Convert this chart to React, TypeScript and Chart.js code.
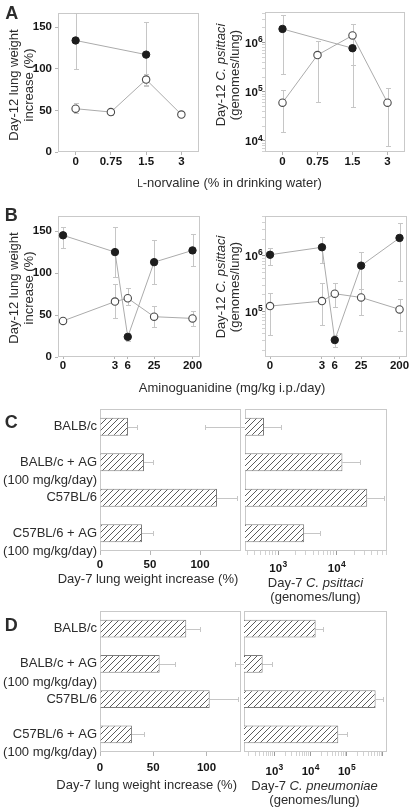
import React, { useEffect, useRef } from "react";
import { Chart, registerables } from "chart.js";
Chart.register(...registerables);

const FONT = "'Liberation Sans', Arial, Helvetica, sans-serif";
const TICK_COLOR = "#151515";
const TEXT_COLOR = "#2c2c2c";
const FRAME_COLOR = "#c9c9c9";
const WHISKER_COLOR = "#c6c6c6";
const LINE_COLOR = "#ababab";
const TICK_SIZE = 11.5;
const EXP_SIZE = 8.5;

// ---------- Panel A: L-norvaline ----------
const norvalineDoses = ["0", "0.75", "1.5", "3"];
const aWeightFilled = [134, null, 117, null];
const aWeightFilledLow = [100, null, 79, null];
const aWeightFilledHigh = [167, null, 156, null];
const aWeightOpen = [52, 48, 87, 45];
const aWeightOpenLow = [47, 45, 80, 42];
const aWeightOpenHigh = [59, 51, 94, 48];
const aPsittaciFilled = [1.9e6, null, 7.7e5, null];
const aPsittaciFilledLow = [2.3e5, null, 5.0e4, null];
const aPsittaciFilledHigh = [3.7e6, null, 2.4e6, null];
const aPsittaciOpen = [6.0e4, 5.6e5, 1.4e6, 6.0e4];
const aPsittaciOpenLow = [1.5e4, 6.2e4, 3.5e5, 8.0e3];
const aPsittaciOpenHigh = [1.07e5, 1.1e6, 2.4e6, 1.2e5];
const aPsittaciExps = [4, 5, 6];

// ---------- Panel B: aminoguanidine ----------
const agDoses = [0, 3, 6, 25, 200];
const agDoseLabels = ["0", "3", "6", "25", "200"];
const bWeightFilled = [145, 125, 24, 113, 127];
const bWeightFilledLow = [130, 95, 19, 87, 108];
const bWeightFilledHigh = [155, 155, 29, 139, 146];
const bWeightOpen = [43, 66, 70, 48, 46];
const bWeightOpenLow = [40, 46, 62, 36, 37];
const bWeightOpenHigh = [46, 87, 82, 61, 55];
const bPsittaciFilled = [1.05e6, 1.43e6, 3.1e4, 6.7e5, 2.1e6];
const bPsittaciFilledLow = [6.9e5, 7.4e5, 2.3e4, 2.0e5, 3.5e5];
const bPsittaciFilledHigh = [1.4e6, 2.2e6, 3.8e4, 1.2e6, 3.9e6];
const bPsittaciOpen = [1.26e5, 1.55e5, 2.1e5, 1.8e5, 1.1e5];
const bPsittaciOpenLow = [3.8e4, 5.8e4, 1.2e5, 8.7e4, 4.5e4];
const bPsittaciOpenHigh = [2.2e5, 3.3e5, 3.3e5, 2.6e5, 1.7e5];
const bPsittaciExps = [5, 6];
const ZERO_DOSE_POS = 0.18; // where the 0 dose sits on the log dose axis

// ---------- Panels C & D: strains ----------
const strainNames = ["BALB/c", "BALB/c + AG", "C57BL/6", "C57BL/6 + AG"];
const strainDoseNotes = ["", "(100 mg/kg/day)", "", "(100 mg/kg/day)"];
const cWeight = [28, 44, 117, 42];
const cWeightHigh = [37, 53, 137, 53];
const cPsittaci = [575, 12600, 33400, 2790];
const cPsittaciLow = [56, null, null, null];
const cPsittaciHigh = [1110, 25000, 64600, 5170];
const cPsittaciExps = [3, 4];
const dWeight = [81, 56, 103, 30];
const dWeightHigh = [94, 70, 130, 41];
const dPneumoniae = [13900, 478, 6.3e5, 58600];
const dPneumoniaeLow = [null, 82, null, null];
const dPneumoniaeHigh = [22600, 846, 1.03e6, 1.0e5];
const dPneumoniaeExps = [3, 4, 5];

const strainLabels = strainNames.map((n, i) =>
  strainDoseNotes[i] ? ["", n, strainDoseNotes[i]] : n
);

function isPow10(v: number) {
  const e = Math.round(Math.log10(v));
  return Math.abs(v - Math.pow(10, e)) < 1e-6 * v;
}
function logTickValues(min: number, max: number) {
  const out: any[] = [];
  for (let e = Math.floor(Math.log10(min)); e <= Math.ceil(Math.log10(max)); e++) {
    for (let m = 1; m < 10; m++) {
      const v = m * Math.pow(10, e);
      if (v >= min && v <= max) out.push({ value: v });
    }
  }
  return out;
}

function makeHatch() {
  const c = document.createElement("canvas");
  c.width = 6;
  c.height = 6;
  const g = c.getContext("2d")!;
  g.fillStyle = "#ffffff";
  g.fillRect(0, 0, 6, 6);
  g.strokeStyle = "#4a4a4a";
  g.lineWidth = 0.9;
  g.beginPath();
  g.moveTo(0, 6); g.lineTo(6, 0);
  g.moveTo(-1, 1); g.lineTo(1, -1);
  g.moveTo(5, 7); g.lineTo(7, 5);
  g.stroke();
  return g.createPattern(c, "repeat");
}

// plugins
const framePlugin = {
  id: "frame",
  beforeDatasetsDraw(chart: any) {
    const { ctx, chartArea: a } = chart;
    ctx.save();
    ctx.strokeStyle = FRAME_COLOR;
    ctx.lineWidth = 1;
    ctx.strokeRect(Math.round(a.left) + 0.5, Math.round(a.top) + 0.5,
      Math.round(a.right - a.left) - 1, Math.round(a.bottom - a.top) - 1);
    ctx.restore();
  },
};
const errorPlugin = {
  id: "errbars",
  beforeDatasetsDraw(chart: any) {
    const ctx = chart.ctx;
    const horizontal = chart.options.indexAxis === "y";
    const vScale = horizontal ? chart.scales.x : chart.scales.y;
    ctx.save();
    ctx.strokeStyle = WHISKER_COLOR;
    ctx.lineWidth = 1;
    chart.data.datasets.forEach((ds: any, di: number) => {
      const meta = chart.getDatasetMeta(di);
      ds.data.forEach((d: any, i: number) => {
        if (d == null) return;
        const v = typeof d === "object" ? (horizontal ? d.x : d.y) : d;
        if (v == null) return;
        const el = meta.data[i];
        if (!el) return;
        const pos = Math.round(horizontal ? el.y : el.x) + 0.5;
        const vp = vScale.getPixelForValue(v);
        [ds.errLow ? ds.errLow[i] : null, ds.errHigh ? ds.errHigh[i] : null].forEach((e: any) => {
          if (e == null) return;
          const ep = Math.round(vScale.getPixelForValue(e)) + 0.5;
          ctx.beginPath();
          if (horizontal) {
            ctx.moveTo(vp, pos); ctx.lineTo(ep, pos);
            ctx.moveTo(ep, pos - 2.5); ctx.lineTo(ep, pos + 2.5);
          } else {
            ctx.moveTo(pos, vp); ctx.lineTo(pos, ep);
            ctx.moveTo(pos - 2.5, ep); ctx.lineTo(pos + 2.5, ep);
          }
          ctx.stroke();
        });
      });
    });
    ctx.restore();
  },
};
// power-of-ten tick labels with a raised exponent
const powLabelPlugin = {
  id: "powLabels",
  afterDraw(chart: any, _args: any, opts: any) {
    if (!opts || !opts.exps) return;
    const scale = chart.scales[opts.axis];
    const a = chart.chartArea;
    const ctx = chart.ctx;
    ctx.save();
    ctx.fillStyle = TICK_COLOR;
    ctx.textBaseline = "alphabetic";
    ctx.textAlign = "left";
    opts.exps.forEach((e: number) => {
      const v = Math.pow(10, e);
      if (v < scale.min || v > scale.max) return;
      const p = scale.getPixelForValue(v);
      ctx.font = `bold ${TICK_SIZE}px ${FONT}`;
      const w1 = ctx.measureText("10").width;
      ctx.font = `bold ${EXP_SIZE}px ${FONT}`;
      const w2 = ctx.measureText(String(e)).width;
      let x0: number, base: number;
      if (opts.axis === "y") {
        x0 = a.left - opts.gap - w1 - w2;
        base = p + TICK_SIZE * 0.36;
      } else {
        x0 = p - (w1 + w2) / 2;
        base = a.bottom + opts.offset;
      }
      ctx.font = `bold ${TICK_SIZE}px ${FONT}`;
      ctx.fillText("10", x0, base);
      ctx.font = `bold ${EXP_SIZE}px ${FONT}`;
      ctx.fillText(String(e), x0 + w1 + 0.3, base - 4.6);
    });
    ctx.restore();
  },
};

type Box = { L: number; T: number; R: number; B: number; yw: number; xh: number; pr: number; pt: number; yHidden?: boolean };

function canvasRect(b: Box) {
  const left = b.L - b.yw;
  const top = b.T - b.pt;
  return { left, top, width: b.R + b.pr - left, height: b.B + b.xh - top };
}

function baseOptions(b: Box, scales: any, extra: any = {}, powLabels: any = false) {
  return {
    responsive: false,
    maintainAspectRatio: false,
    animation: false,
    devicePixelRatio: 1,
    events: [],
    layout: { padding: { left: b.yHidden ? b.yw : 0, right: b.pr, top: b.pt, bottom: 0 } },
    plugins: { legend: { display: false }, tooltip: { enabled: false }, title: { display: false }, powLabels },
    scales,
    ...extra,
  };
}

const boldTick = { family: FONT, size: TICK_SIZE, weight: "bold" as const };
const tickGrid = (len: number) => ({ drawOnChartArea: false, drawTicks: true, tickLength: len, color: "#b5b5b5" });
const logGrid = (len: number) => ({
  drawOnChartArea: false, drawTicks: true, tickLength: len,
  color: (c: any) => (c.tick && isPow10(c.tick.value) ? "#9a9a9a" : "#d2d2d2"),
});

const filledStyle = {
  borderColor: LINE_COLOR, borderWidth: 1, pointRadius: 3.7, pointHoverRadius: 3.7,
  pointBackgroundColor: "#1d1d1d", pointBorderColor: "#1d1d1d", pointBorderWidth: 1, fill: false, tension: 0,
};
const openStyle = {
  borderColor: LINE_COLOR, borderWidth: 1, pointRadius: 3.7, pointHoverRadius: 3.7,
  pointBackgroundColor: "#ffffff", pointBorderColor: "#4a4a4a", pointBorderWidth: 1.1, fill: false, tension: 0,
};

function xyPoints(vals: (number | null)[]) {
  return vals.map((v, i) => ({ x: agDoses[i] === 0 ? ZERO_DOSE_POS : agDoses[i], y: v }));
}

function ChartBox({ box, make }: { box: Box; make: (b: Box) => any }) {
  const ref = useRef<HTMLCanvasElement>(null);
  useEffect(() => {
    const chart = new Chart(ref.current as any, make(box));
    return () => chart.destroy();
  }, []);
  const r = canvasRect(box);
  return (
    <canvas ref={ref} width={r.width} height={r.height}
      style={{ position: "absolute", left: r.left, top: r.top, width: r.width, height: r.height }} />
  );
}

// ---- chart builders ----
function weightLineChart(b: Box, labels: any, datasets: any[], xScale: any, yMax: number) {
  return {
    type: "line",
    data: { labels, datasets },
    options: baseOptions(b, {
      x: { ...xScale, afterFit: (s: any) => { s.height = b.xh; } },
      y: {
        type: "linear", min: 0, max: yMax,
        ticks: { stepSize: 50, includeBounds: false, font: boldTick, color: TICK_COLOR, padding: 3 },
        grid: tickGrid(3), border: { display: false },
        afterFit: (s: any) => { s.width = b.yw; },
      },
    }),
    plugins: [framePlugin, errorPlugin],
  };
}
function logLineChart(b: Box, labels: any, datasets: any[], xScale: any, min: number, max: number, exps: number[]) {
  return {
    type: "line",
    data: { labels, datasets },
    options: baseOptions(b, {
      x: { ...xScale, afterFit: (s: any) => { s.height = b.xh; } },
      y: {
        type: "logarithmic", min, max,
        afterBuildTicks: (s: any) => { s.ticks = logTickValues(s.min, s.max); },
        ticks: { callback: () => "", font: boldTick, color: TICK_COLOR, padding: 2, autoSkip: false },
        grid: logGrid(3), border: { display: false },
        afterFit: (s: any) => { s.width = b.yw; },
      },
    }, {}, { axis: "y", exps, gap: 2.5 }),
    plugins: [framePlugin, errorPlugin, powLabelPlugin],
  };
}

const normXScale = {
  type: "category", offset: true,
  grid: { ...tickGrid(3), offset: false }, border: { display: false },
  ticks: { font: boldTick, color: TICK_COLOR, padding: 0, maxRotation: 0, autoSkip: false },
};
const doseXScale = (pad: number) => ({
  type: "logarithmic", min: 0.137, max: 300,
  afterBuildTicks: (s: any) => { s.ticks = agDoses.map((d) => ({ value: d === 0 ? ZERO_DOSE_POS : d })); },
  grid: tickGrid(2), border: { display: false },
  ticks: { callback: (_v: any, i: number) => agDoseLabels[i], font: boldTick, color: TICK_COLOR, padding: pad, maxRotation: 0, autoSkip: false },
});

function barChart(b: Box, data: number[], low: any, high: any, xScale: any, powLabels: any = false) {
  return {
    type: "bar",
    data: {
      labels: strainLabels,
      datasets: [{
        data, errLow: low, errHigh: high, backgroundColor: makeHatch(),
        borderColor: "#7c7c7c", borderWidth: 1, barPercentage: 0.51, categoryPercentage: 1,
      }],
    },
    options: baseOptions(b, {
      x: { ...xScale, afterFit: (s: any) => { s.height = b.xh; } },
      y: b.yHidden
        ? { type: "category", display: false }
        : {
            type: "category",
            grid: { display: false, drawTicks: false }, border: { display: false },
            ticks: { font: { family: FONT, size: 13, lineHeight: 1.4 }, color: TEXT_COLOR, padding: 3, autoSkip: false },
            afterFit: (s: any) => { s.width = b.yw; },
          },
    }, { indexAxis: "y" }, powLabels),
    plugins: [framePlugin, errorPlugin, powLabelPlugin],
  };
}
const linXScale = (max: number, pad: number) => ({
  type: "linear", min: 0, max,
  ticks: { stepSize: 50, includeBounds: false, font: boldTick, color: TICK_COLOR, padding: pad, maxRotation: 0, autoSkip: false },
  grid: tickGrid(4), border: { display: false },
});
const logXScale = (min: number, max: number) => ({
  type: "logarithmic", min, max,
  afterBuildTicks: (s: any) => { s.ticks = logTickValues(s.min, s.max); },
  ticks: { callback: () => "", font: boldTick, color: TICK_COLOR, padding: 4, maxRotation: 0, autoSkip: false },
  grid: logGrid(4), border: { display: false },
});

// ---- boxes (plot areas) ----
const boxAL: Box = { L: 58, T: 13, R: 199, B: 152, yw: 40, xh: 22, pr: 12, pt: 12 };
const boxAR: Box = { L: 265, T: 12, R: 405, B: 152, yw: 34, xh: 22, pr: 10, pt: 12 };
const boxBL: Box = { L: 58, T: 216, R: 200, B: 357, yw: 40, xh: 22, pr: 12, pt: 12 };
const boxBR: Box = { L: 265, T: 216, R: 407, B: 357, yw: 34, xh: 22, pr: 10, pt: 12 };
const boxCL: Box = { L: 100, T: 409, R: 241, B: 551, yw: 100, xh: 30, pr: 4, pt: 34 };
const boxCR: Box = { L: 245, T: 409, R: 387, B: 551, yw: 45, xh: 30, pr: 10, pt: 12, yHidden: true };
const boxDL: Box = { L: 100, T: 611, R: 241, B: 752, yw: 100, xh: 30, pr: 4, pt: 34 };
const boxDR: Box = { L: 244, T: 611, R: 387, B: 752, yw: 44, xh: 30, pr: 10, pt: 12, yHidden: true };

function Txt({ x, y, size = 13, rotate = false, lh, weight, children }: any) {
  return (
    <div style={{
      position: "absolute", left: x, top: y,
      transform: `translate(-50%, -50%)${rotate ? " rotate(-90deg)" : ""}`,
      whiteSpace: "nowrap", fontFamily: FONT, fontSize: size,
      lineHeight: lh ? `${lh}px` : 1, color: TEXT_COLOR, textAlign: "center",
      fontWeight: weight || "normal",
    }}>{children}</div>
  );
}

export default function App() {
  return (
    <div style={{ position: "absolute", left: 0, top: 0, width: 410, height: 808, overflow: "hidden", background: "#fff" }}>
      <ChartBox box={boxAL} make={(b) => weightLineChart(b, norvalineDoses, [
        { data: aWeightFilled, errLow: aWeightFilledLow, errHigh: aWeightFilledHigh, spanGaps: true, ...filledStyle },
        { data: aWeightOpen, errLow: aWeightOpenLow, errHigh: aWeightOpenHigh, ...openStyle },
      ], normXScale, 167)} />
      <ChartBox box={boxAR} make={(b) => logLineChart(b, norvalineDoses, [
        { data: aPsittaciFilled, errLow: aPsittaciFilledLow, errHigh: aPsittaciFilledHigh, spanGaps: true, ...filledStyle },
        { data: aPsittaciOpen, errLow: aPsittaciOpenLow, errHigh: aPsittaciOpenHigh, ...openStyle },
      ], normXScale, 5970, 4.2e6, aPsittaciExps)} />
      <ChartBox box={boxBL} make={(b) => weightLineChart(b, undefined, [
        { data: xyPoints(bWeightFilled), errLow: bWeightFilledLow, errHigh: bWeightFilledHigh, ...filledStyle },
        { data: xyPoints(bWeightOpen), errLow: bWeightOpenLow, errHigh: bWeightOpenHigh, ...openStyle },
      ], doseXScale(0), 168)} />
      <ChartBox box={boxBR} make={(b) => logLineChart(b, undefined, [
        { data: xyPoints(bPsittaciFilled), errLow: bPsittaciFilledLow, errHigh: bPsittaciFilledHigh, ...filledStyle },
        { data: xyPoints(bPsittaciOpen), errLow: bPsittaciOpenLow, errHigh: bPsittaciOpenHigh, ...openStyle },
      ], doseXScale(0), 15400, 5.2e6, bPsittaciExps)} />
      <ChartBox box={boxCL} make={(b) => barChart(b, cWeight, null, cWeightHigh, linXScale(141, 3))} />
      <ChartBox box={boxCR} make={(b) => barChart(b, cPsittaci, cPsittaciLow, cPsittaciHigh, logXScale(272, 72800),
        { axis: "x", exps: cPsittaciExps, offset: 21 })} />
      <ChartBox box={boxDL} make={(b) => barChart(b, dWeight, null, dWeightHigh, linXScale(132.4, 5))} />
      <ChartBox box={boxDR} make={(b) => barChart(b, dPneumoniae, dPneumoniaeLow, dPneumoniaeHigh, logXScale(146, 1.3e6),
        { axis: "x", exps: dPneumoniaeExps, offset: 22.5 })} />

      <Txt x={11.7} y={13.3} size={18} weight="bold">A</Txt>
      <Txt x={11.3} y={215} size={18} weight="bold">B</Txt>
      <Txt x={11.2} y={421.7} size={18} weight="bold">C</Txt>
      <Txt x={11.2} y={624.7} size={18} weight="bold">D</Txt>

      <Txt x={20.5} y={85} rotate lh={14.5}><div>Day-12 lung weight</div><div>increase (%)</div></Txt>
      <Txt x={228} y={75} rotate lh={14}><div>Day-12 <i>C. psittaci</i></div><div>(genomes/lung)</div></Txt>
      <Txt x={20.5} y={288} rotate lh={14.5}><div>Day-12 lung weight</div><div>increase (%)</div></Txt>
      <Txt x={228} y={287} rotate lh={14}><div>Day-12 <i>C. psittaci</i></div><div>(genomes/lung)</div></Txt>

      <Txt x={229.5} y={181.7}><span style={{ fontSize: 10 }}>L</span>-norvaline (% in drinking water)</Txt>
      <Txt x={232} y={386.7}>Aminoguanidine (mg/kg i.p./day)</Txt>

      <Txt x={148} y={578}>Day-7 lung weight increase (%)</Txt>
      <Txt x={315.5} y={589.7} lh={14}><div>Day-7 <i>C. psittaci</i></div><div>(genomes/lung)</div></Txt>
      <Txt x={146.7} y={784}>Day-7 lung weight increase (%)</Txt>
      <Txt x={314.5} y={793} lh={14}><div>Day-7 <i>C. pneumoniae</i></div><div>(genomes/lung)</div></Txt>
    </div>
  );
}
